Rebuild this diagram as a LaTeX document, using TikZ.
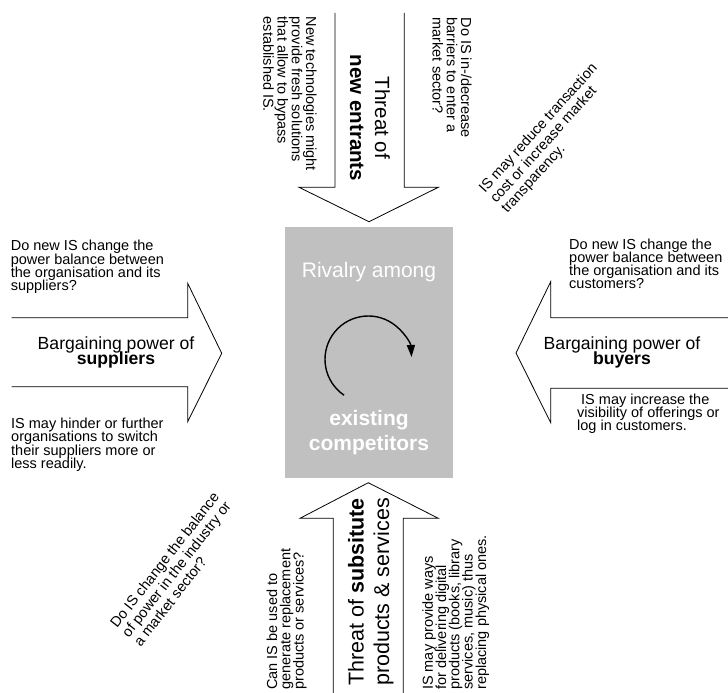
\documentclass[tikz,border=0pt]{standalone}
\usepackage{fontspec}
\setmainfont{Liberation Sans}
\usetikzlibrary{arrows.meta}
\newcommand{\LBlock}[1]{\vtop{\lineskiplimit=-100pt\lineskip=0pt\halign{##\hfil\cr#1\crcr}}}
\newcommand{\CBlock}[1]{\vtop{\lineskiplimit=-100pt\lineskip=0pt\halign{\hfil##\hfil\cr#1\crcr}}}
\newcommand{\RBlock}[1]{\vtop{\lineskiplimit=-100pt\lineskip=0pt\halign{\hfil##\cr#1\crcr}}}
\definecolor{boxgray}{HTML}{C0C0C0}
\tikzset{
  blockarrow/.style={draw=black, line width=0.8pt, line join=miter},
  small/.style={font=\fontsize{14.5}{13.3}\selectfont, inner sep=0pt},
  vsmall/.style={font=\fontsize{14.5}{14.2}\selectfont, inner sep=0pt},
  diag/.style={font=\fontsize{14.5}{15}\selectfont, inner sep=0pt},
  sidelabel/.style={font=\fontsize{17.6}{15}\selectfont, inner sep=0pt},
  toplabel/.style={font=\fontsize{20.5}{25}\selectfont, inner sep=0pt},
  botlabel/.style={font=\fontsize{21.5}{25.5}\selectfont, inner sep=0pt},
  centerlabel/.style={font=\fontsize{21}{25}\selectfont, inner sep=0pt, text=white},
}
\begin{document}
\begin{tikzpicture}[x=1pt,y=1pt]
\fill[white] (0,0) rectangle (728,-693);
\useasboundingbox (0,0) rectangle (728,-693);

% central box
\node[fill=boxgray, minimum width=168.3pt, minimum height=251.6pt, inner sep=0pt] (box) at (369.2,-352.5) {};

% block arrows
\draw[blockarrow] (335,-13) -- (335,-187.3) -- (299,-187.3) -- (369,-221.7) -- (438.3,-187.3) -- (404.3,-187.3) -- (404.3,-13);
\draw[blockarrow] (333.3,-694) -- (333.3,-518.3) -- (300,-518.3) -- (368.3,-482.7) -- (438.3,-518.3) -- (403.3,-518.3) -- (403.3,-694);
\draw[blockarrow] (11.7,-317.7) -- (187.7,-317.7) -- (187.7,-283.3) -- (221.7,-353.3) -- (187.7,-421.7) -- (187.7,-386.7) -- (11.7,-386.7);
\draw[blockarrow] (729,-317.7) -- (550.7,-317.7) -- (550.7,-281.7) -- (516,-353) -- (550.7,-422.7) -- (550.7,-388.3) -- (729,-388.3);

% rotation arrow
\coordinate (rc) at (368.3,-359.3);
\draw[line width=1.4pt, -{Triangle[length=12pt,width=8pt]}] (rc) ++(236:43.3) arc[start angle=236, end angle=3, radius=43.3];

% centre text
\node[centerlabel, anchor=base] (riv1) at (369,-277) {Rivalry among};
\node[centerlabel, anchor=base] (riv2) at (369,-425) {\CBlock{\textbf{existing}\cr \textbf{competitors}}};

% suppliers
\node[small, anchor=base west] (sup1) at (10.6,-250.7) {\LBlock{Do new IS change the\cr power balance between\cr the organisation and its\cr suppliers?}};
\node[small, anchor=base west] (sup2) at (11,-428.5) {\LBlock{IS may hinder or further\cr organisations to switch\cr their suppliers more or\cr less readily.}};
\node[sidelabel, anchor=base] (suplab) at (116,-349) {\CBlock{Bargaining power of\cr \textbf{suppliers}}};

% buyers
\node[small, anchor=base west] (buy1) at (569,-249) {\LBlock{Do new IS change the\cr power balance between\cr the organisation and its\cr customers?}};
\node[small, anchor=base west] (buy2) at (577,-404) {\LBlock{\kern4pt IS may increase the\cr visibility of offerings or\cr log in customers.}};
\node[sidelabel, anchor=base] (buylab) at (622,-349) {\CBlock{Bargaining power of\cr \textbf{buyers}}};

% new entrants
\node[toplabel, anchor=base, rotate=-90] (entlab) at (375,-118) {\CBlock{Threat of\cr \textbf{new entrants}}};
\node[vsmall, anchor=base west, rotate=-90] (ent1) at (306,-16.7) {\LBlock{New technologies might\cr provide fresh solutions\cr that allow to bypass\cr established IS.}};
\node[vsmall, anchor=base west, rotate=-90] (ent2) at (461,-17.5) {\LBlock{Do IS in-/decrease\cr barriers to enter a\cr market sector?}};

% substitutes
\node[botlabel, anchor=base east, rotate=90] (sublab) at (363.5,-498) {\RBlock{Threat of \textbf{subsitute}\cr products \& services}};
\node[small, anchor=base west, rotate=90] (sub1) at (277,-690) {\LBlock{Can IS be used to\cr generate replacement\cr products or services?}};
\node[small, anchor=base west, rotate=90] (sub2) at (432.8,-690) {\LBlock{IS may provide ways\cr for delivering digital\cr products (books, library\cr services, music) thus\cr replacing physical ones.}};

% diagonal notes
\node[diag, anchor=base west, rotate=48] (tr) at (485,-194) {\LBlock{IS may reduce transaction\cr cost or increase market\cr transparency.}};
\node[diag, anchor=base west, rotate=52] (bl) at (117,-629) {\LBlock{Do IS change the balance\cr of power in the industry or\cr a market sector?}};
\end{tikzpicture}
\end{document}
